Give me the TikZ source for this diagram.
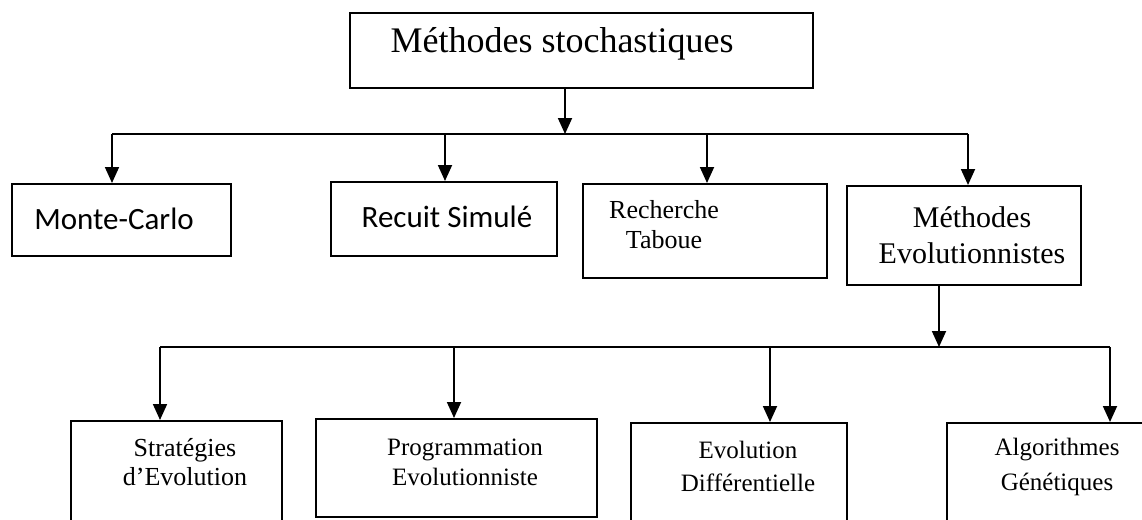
\documentclass[tikz,border=0pt]{standalone}
\usepackage{fontspec}
\setmainfont{Liberation Serif}
\newfontfamily\calib{Carlito}
\usetikzlibrary{arrows.meta}
\tikzset{
	boite/.style={draw, line width=2.2pt, inner sep=0pt, anchor=north west},
	arr/.style={line width=1.8pt, -{Triangle[length=16pt,width=14pt]}},
	fil/.style={line width=1.8pt},
	txt/.style={align=center, inner sep=0pt}
}

\begin{document}
\begin{tikzpicture}[x=1pt, y=-1pt]
			%%%%% START %%%%%
			\useasboundingbox (0, 0) rectangle (1142, 519);
			\clip (0, 0) rectangle (1142, 519);
			
			\node[boite, minimum width=463pt, minimum height=75pt] (stoch) at (349, 12) {};
			\node[txt, font=\fontsize{36}{42}\selectfont] (tstoch) at (562, 44) {Méthodes stochastiques};
			
			\node[boite, minimum width=219pt, minimum height=72pt] (monte) at (11, 183) {};
			\node[txt, font=\calib\fontsize{31}{37}\selectfont] (tmonte) at (114, 219) {Monte-Carlo};
			
			\node[boite, minimum width=226pt, minimum height=74pt] (recuit) at (330, 181) {};
			\node[txt, font=\calib\fontsize{31}{37}\selectfont] (trecuit) at (447, 217) {Recuit Simulé};
			
			\node[boite, minimum width=244pt, minimum height=94pt] (tabou) at (582, 183) {};
			\node[txt, font=\fontsize{26}{30}\selectfont] (ttabou) at (664, 225) {Recherche\\Taboue};
			
			\node[boite, minimum width=234pt, minimum height=99pt] (evol) at (846, 185) {};
			\node[txt, font=\fontsize{30}{36}\selectfont] (tevol) at (972, 235) {Méthodes\\Evolutionnistes};
			
			\node[boite, minimum width=211pt, minimum height=130pt] (strat) at (70, 420) {};
			\node[txt, font=\fontsize{26}{29}\selectfont] (tstrat) at (185, 462) {Stratégies\\d’Evolution};
			
			\node[boite, minimum width=281pt, minimum height=98pt] (prog) at (315, 418) {};
			\node[txt, font=\fontsize{25}{30}\selectfont] (tprog) at (465, 462) {Programmation\\Evolutionniste};
			
			\node[boite, minimum width=216pt, minimum height=130pt] (diff) at (630, 422) {};
			\node[txt, font=\fontsize{25}{33}\selectfont] (tdiff) at (748, 466) {Evolution\\Différentielle};
			
			\node[boite, minimum width=230pt, minimum height=130pt] (algo) at (946, 422) {};
			\node[txt, font=\fontsize{25}{35}\selectfont] (talgo) at (1057, 467) {Algorithmes\\Génétiques};
			
			%% premier niveau
			\coordinate (j0) at (565, 134);
			\coordinate (b0l) at (112, 134);
			\coordinate (b0r) at (968, 134);
			\draw[arr] (stoch.south -| j0) -- (j0);
			\draw[fil] (b0l) -- (b0r);
			\draw[arr] (b0l) -- (b0l |- monte.north);
			\draw[arr] (445, 134) -- (445, 181);
			\draw[arr] (707, 134) -- (707, 183);
			\draw[arr] (b0r) -- (b0r |- evol.north);
			
			%% second niveau
			\coordinate (j1) at (939, 347);
			\coordinate (b1l) at (160, 347);
			\coordinate (b1r) at (1110, 347);
			\draw[arr] (evol.south -| j1) -- (j1);
			\draw[fil] (b1l) -- (b1r);
			\draw[arr] (b1l) -- (b1l |- strat.north);
			\draw[arr] (454, 347) -- (454, 418);
			\draw[arr] (770, 347) -- (770, 422);
			\draw[arr] (b1r) -- (b1r |- algo.north);
			%%%%% END %%%%%
\end{tikzpicture}
\end{document}
